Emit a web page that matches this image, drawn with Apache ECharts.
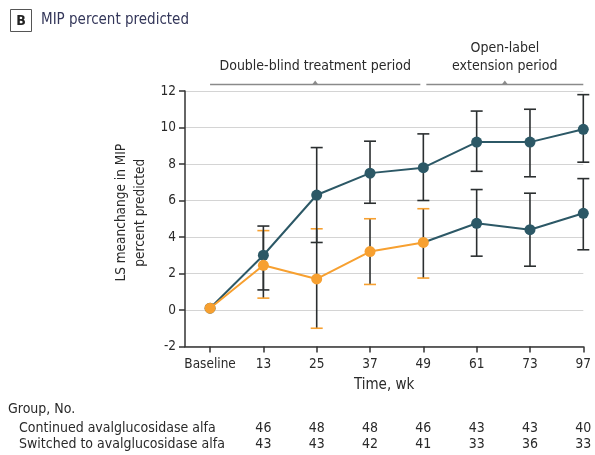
<!DOCTYPE html>
<html>
<head>
<meta charset="utf-8">
<script src="https://cdn.jsdelivr.net/npm/echarts@6/dist/echarts.min.js"></script>
<style>
  html, body { margin: 0; padding: 0; background: #fff; }
  #chart { width: 595px; height: 455px; }
</style>
</head>
<body>
<div id="chart"></div>
<script>
// Time points (weeks) and labels
const weeks = ['Baseline', '13', '25', '37', '49', '61', '73', '97'];

// Continued avalglucosidase alfa: LS mean change and 95% CI
const continuedMean = [0.1, 3.0, 6.3, 7.5, 7.8, 9.2, 9.2, 9.9];
const continuedLow  = [null, 1.1, 3.7, 5.85, 6.0, 7.6, 7.3, 8.1];
const continuedHigh = [null, 4.6, 8.9, 9.25, 9.65, 10.9, 11.0, 11.8];

// Switched to avalglucosidase alfa: LS mean change and 95% CI
const switchedMean = [0.1, 2.45, 1.7, 3.2, 3.7, 4.75, 4.4, 5.3];
const switchedLow  = [null, 0.65, -1.0, 1.4, 1.75, 2.95, 2.4, 3.3];
const switchedHigh = [null, 4.35, 4.45, 5.0, 5.55, 6.6, 6.4, 7.2];

// Number at risk per group (weeks 13-97)
const continuedN = [46, 48, 48, 46, 43, 43, 40];
const switchedN  = [43, 43, 42, 41, 33, 36, 33];

// Last index of the double-blind period (week 49)
const blindEnd = 4;

const TEAL = '#2c5866';
const ORANGE = '#f7a030';
const STEM = '#2b2f30';
const FONT = '"Liberation Sans Narrow", "DejaVu Sans Condensed", "Roboto Condensed", sans-serif';
const TEXT = '#2a2a2a';

const chart = echarts.init(document.getElementById('chart'), null, { renderer: 'canvas' });
const idx = weeks.map((_, i) => i);

function ciData(lo, hi) {
  return idx.filter(i => lo[i] != null).map(i => [i, lo[i], hi[i]]);
}

function ciRenderer(capColorFor) {
  return function (params, api) {
    const x = api.value(0);
    const top = api.coord([x, api.value(2)]);
    const bot = api.coord([x, api.value(1)]);
    const half = 6;
    const cap = capColorFor(x);
    return {
      type: 'group',
      children: [
        { type: 'line', shape: { x1: top[0], y1: top[1], x2: bot[0], y2: bot[1] },
          style: { stroke: STEM, lineWidth: 1.6 } },
        { type: 'line', shape: { x1: top[0] - half, y1: top[1], x2: top[0] + half, y2: top[1] },
          style: { stroke: cap, lineWidth: 1.6 } },
        { type: 'line', shape: { x1: bot[0] - half, y1: bot[1], x2: bot[0] + half, y2: bot[1] },
          style: { stroke: cap, lineWidth: 1.6 } }
      ]
    };
  };
}

const lineCommon = {
  type: 'line',
  symbol: 'circle',
  symbolSize: 11,
  lineStyle: { width: 2 },
  silent: true
};

chart.setOption({
  animation: false,
  grid: { left: 185, right: 11.7, top: 91, bottom: 108.5 },
  xAxis: {
    type: 'value',
    min: -0.47,
    max: 7,
    axisLine: { show: true, onZero: false, lineStyle: { color: '#333', width: 1.5 } },
    axisTick: { show: true, customValues: idx, length: 6, lineStyle: { color: '#333', width: 1.5 } },
    axisLabel: {
      customValues: idx,
      formatter: v => weeks[Math.round(v)],
      color: TEXT, fontFamily: FONT, fontSize: 13.5, margin: 11
    },
    splitLine: { show: false }
  },
  yAxis: {
    type: 'value',
    min: -2,
    max: 12,
    interval: 2,
    name: 'LS meanchange in MIP\npercent predicted',
    nameLocation: 'middle',
    nameGap: 30,
    nameTextStyle: { color: TEXT, fontFamily: FONT, fontSize: 13.5, lineHeight: 19, padding: [0, 0, 0, 12] },
    axisLine: { show: true, onZero: false, lineStyle: { color: '#333', width: 1.5 } },
    axisTick: { show: true, length: 6, lineStyle: { color: '#333', width: 1.5 } },
    axisLabel: { color: TEXT, fontFamily: FONT, fontSize: 13.5, margin: 9 },
    splitLine: { show: true, lineStyle: { color: '#d4d4d4', width: 1.2 } }
  },
  series: [
    {
      type: 'custom', name: 'Switched CI', z: 2,
      renderItem: ciRenderer(x => (x <= blindEnd ? ORANGE : STEM)),
      encode: { x: 0, y: [1, 2] },
      data: ciData(switchedLow, switchedHigh)
    },
    {
      type: 'custom', name: 'Continued CI', z: 3,
      renderItem: ciRenderer(() => STEM),
      encode: { x: 0, y: [1, 2] },
      data: ciData(continuedLow, continuedHigh)
    },
    Object.assign({}, lineCommon, {
      name: 'Switched (open-label)', z: 4,
      color: TEAL,
      data: idx.filter(i => i >= blindEnd).map(i =>
        i === blindEnd ? { value: [i, switchedMean[i]], symbolSize: 0 } : [i, switchedMean[i]])
    }),
    Object.assign({}, lineCommon, {
      name: 'Continued', z: 5,
      color: TEAL,
      data: idx.map(i => [i, continuedMean[i]])
    }),
    Object.assign({}, lineCommon, {
      name: 'Switched (double-blind)', z: 6,
      color: ORANGE,
      data: idx.filter(i => i <= blindEnd).map(i => [i, switchedMean[i]])
    })
  ]
});

// Annotations: panel title, period brackets, axis title, number-at-risk table
const px = i => chart.convertToPixel({ xAxisIndex: 0 }, i);
const yTop = 84.5;
const bracketGray = '#8a8a8a';

function bracket(x1, x2) {
  const mid = (x1 + x2) / 2;
  return [
    { type: 'line', shape: { x1: x1, y1: yTop, x2: x2, y2: yTop },
      style: { stroke: bracketGray, lineWidth: 1.5 }, silent: true },
    { type: 'polygon', shape: { points: [[mid - 3, yTop], [mid + 3, yTop], [mid, yTop - 4]] },
      style: { fill: bracketGray }, silent: true }
  ];
}

function txt(x, y, text, opts) {
  return Object.assign({
    type: 'text', x: x, y: y, silent: true,
    style: Object.assign({
      text: text, fill: TEXT, font: '14px ' + FONT,
      textAlign: 'left', textVerticalAlign: 'middle'
    }, opts || {})
  });
}

const x0 = px(0), xEnd = px(weeks.length - 1), xBlind = px(blindEnd);
const xAxisStart = px(-0.47);
const elements = [];

// Panel label
elements.push({ type: 'rect', shape: { x: 10.5, y: 9.5, width: 21, height: 22 },
  style: { fill: '#fff', stroke: '#555', lineWidth: 1 }, silent: true });
elements.push(txt(21, 21, 'B', { font: 'bold 14px ' + FONT, textAlign: 'center', fill: '#222' }));
elements.push(txt(41, 20, 'MIP percent predicted', { font: '15px ' + FONT, fill: '#34375a' }));

// Period brackets
elements.push(...bracket(x0, xBlind - 3));
elements.push(...bracket(xBlind + 3, xEnd));
elements.push(txt((x0 + xBlind - 3) / 2, 66, 'Double-blind treatment period', { textAlign: 'center' }));
elements.push(txt((xBlind + 3 + xEnd) / 2, 48, 'Open-label', { textAlign: 'center' }));
elements.push(txt((xBlind + 3 + xEnd) / 2, 66, 'extension period', { textAlign: 'center' }));

// X axis title
elements.push(txt((xAxisStart + xEnd) / 2, 385, 'Time, wk', { textAlign: 'center', font: '15px ' + FONT }));

// Number-at-risk table
elements.push(txt(8, 409, 'Group, No.'));
elements.push(txt(19, 428, 'Continued avalglucosidase alfa'));
elements.push(txt(19, 444, 'Switched to avalglucosidase alfa'));
continuedN.forEach((n, k) => elements.push(txt(px(k + 1), 428, String(n), { textAlign: 'center' })));
switchedN.forEach((n, k) => elements.push(txt(px(k + 1), 444, String(n), { textAlign: 'center' })));

chart.setOption({ graphic: { elements: elements } });
</script>
</body>
</html>
